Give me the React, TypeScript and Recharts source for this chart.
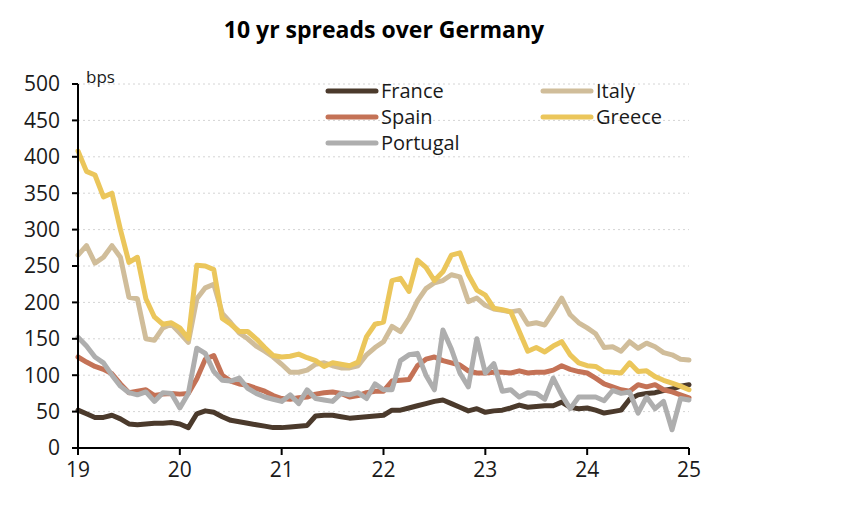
import React from 'react';
import { LineChart, Line, XAxis, YAxis, CartesianGrid, Legend } from 'recharts';

const yearLabels = ['19', '20', '21', '22', '23', '24', '25'];
const yTicks = [0, 50, 100, 150, 200, 250, 300, 350, 400, 450, 500];
const xTicks = [0, 12, 24, 36, 48, 60, 72];

const france = [52,47,42,42,45,40,33,32,33,34,34,35,33,28,47,51,49,43,38,36,34,32,30,28,28,29,30,31,44,45,45,43,41,42,43,44,45,52,52,55,58,61,64,66,61,56,51,54,49,51,52,55,59,56,57,58,58,63,56,54,55,52,48,50,52,67,73,75,76,79,81,85,87];
const italy = [265,278,254,262,278,262,207,205,150,148,165,170,158,145,205,220,225,185,172,158,150,140,133,125,115,104,104,107,115,117,113,110,110,113,128,138,146,167,160,178,202,219,227,230,238,235,201,206,196,191,189,187,189,170,172,169,187,206,183,172,165,157,138,139,133,146,137,144,139,131,128,122,121];
const spain = [125,118,112,108,102,88,76,78,80,72,74,75,74,75,95,122,127,100,92,88,86,82,78,72,68,67,69,70,74,76,77,75,70,72,76,78,78,92,93,94,113,122,125,120,117,114,106,103,103,104,104,103,106,103,104,104,107,113,108,105,103,96,88,84,80,78,87,84,87,80,77,73,69];
const greece = [408,380,375,345,350,300,255,262,205,180,170,172,165,150,251,250,245,178,170,160,160,150,138,127,125,126,129,124,120,112,117,115,113,118,153,170,173,230,233,215,258,248,230,242,265,268,238,217,210,192,190,187,160,133,138,132,140,146,128,117,113,112,105,104,103,117,105,106,98,93,89,85,80];
const portugal = [152,140,125,117,100,85,76,73,77,64,76,75,55,75,137,130,105,93,92,96,82,75,70,67,64,73,61,80,68,66,64,75,73,76,68,88,80,80,120,128,130,100,80,162,136,103,84,150,103,116,78,80,70,76,75,67,96,73,54,70,70,70,65,79,75,77,48,70,54,64,25,68,66];

const seriesNames = ['France', 'Italy', 'Spain', 'Greece', 'Portugal'];
const seriesColors = ['#4b3a2c', '#d0bd9a', '#c47256', '#ebc65b', '#aeaeae'];
const seriesValues = [france, italy, spain, greece, portugal];

const data = france.map((_, i) => {
  const row: any = { t: i };
  seriesNames.forEach((n, k) => { row[n] = seriesValues[k][i]; });
  return row;
});

const FONT = '"Open Sans", "Noto Sans", sans-serif';

const legendSlots = [
  { x: 326, y: 91 },
  { x: 541, y: 91 },
  { x: 326, y: 117 },
  { x: 541, y: 117 },
  { x: 326, y: 143 },
];

const renderLegend = (props: any) => {
  const payload = props.payload || [];
  return (
    <svg width={842} height={170} style={{ display: 'block', pointerEvents: 'none' }}>
      {payload.map((p: any) => {
        const idx = seriesNames.indexOf(p.value);
        const s = legendSlots[idx < 0 ? 0 : idx];
        return (
          <g key={p.value}>
            <line x1={s.x + 2} x2={s.x + 50} y1={s.y} y2={s.y} stroke={p.color} strokeWidth={5} strokeLinecap="round" />
            <text x={s.x + 55} y={s.y + 7} fontSize={20} fontFamily={FONT} fill="#1a1a1a">{p.value}</text>
          </g>
        );
      })}
    </svg>
  );
};

const renderBps = (props: any) => {
  const vb = props.viewBox || {};
  return (
    <text x={(vb.x || 0) + (vb.width || 0) + 8} y={(vb.y || 0) - 1} fontSize={17} fontFamily={FONT} fill="#1a1a1a">bps</text>
  );
};

export default function App() {
  return (
    <div style={{ position: 'absolute', left: 0, top: 0, width: 842, height: 526, background: '#fff' }}>
      <div style={{ position: 'absolute', left: 0, top: 18, width: 768, textAlign: 'center', fontFamily: FONT, fontWeight: 700, fontSize: 23, lineHeight: '23px', color: '#000' }}>
        10 yr spreads over Germany
      </div>
      <LineChart width={842} height={526} data={data} margin={{ top: 84, right: 153, bottom: 0, left: 0 }}>
        <CartesianGrid horizontal vertical={false} stroke="#d4d4d4" strokeDasharray="2 3" />
        <XAxis
          dataKey="t"
          type="number"
          domain={[0, 72]}
          ticks={xTicks}
          tickFormatter={(v: number) => yearLabels[Math.round(v / 12)]}
          height={78}
          tickSize={7}
          tickMargin={7}
          axisLine={{ stroke: '#000', strokeWidth: 2 }}
          tickLine={{ stroke: '#000', strokeWidth: 2 }}
          tick={{ fontSize: 21, fill: '#1a1a1a', fontFamily: FONT }}
          interval={0}
        />
        <YAxis
          type="number"
          domain={[0, 500]}
          ticks={yTicks}
          width={78}
          tickSize={6}
          tickMargin={12}
          axisLine={{ stroke: '#000', strokeWidth: 2 }}
          tickLine={{ stroke: '#000', strokeWidth: 2 }}
          tick={{ fontSize: 21, fill: '#1a1a1a', fontFamily: FONT }}
          interval={0}
          label={renderBps}
        />
        <Legend
          layout="horizontal"
          verticalAlign="middle"
          align="center"
          content={renderLegend}
          wrapperStyle={{ left: 0, top: 0, width: 842, height: 170 }}
        />
        {seriesNames.map((n, k) => (
          <Line
            key={n}
            type="linear"
            dataKey={n}
            name={n}
            stroke={seriesColors[k]}
            strokeWidth={5}
            strokeLinejoin="round"
            strokeLinecap="round"
            dot={false}
            activeDot={false}
            isAnimationActive={false}
          />
        ))}
      </LineChart>
    </div>
  );
}
